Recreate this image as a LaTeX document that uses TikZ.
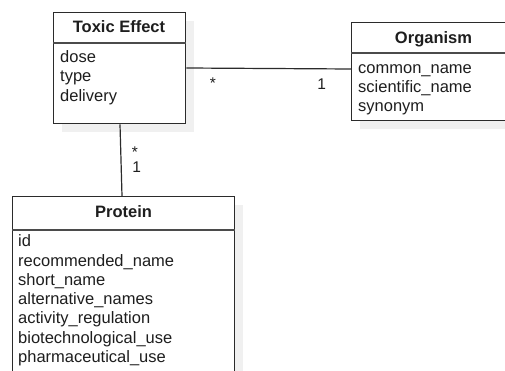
\documentclass[tikz,border=0pt]{standalone}
\usepackage{fontspec}
\setmainfont{Liberation Sans}
\usetikzlibrary{calc}
\definecolor{linec}{HTML}{2B2B2B}
\definecolor{textc}{HTML}{1E1E1E}
\definecolor{shadowc}{HTML}{F0F0F0}
\begin{document}
\begin{tikzpicture}[x=1pt,y=-1pt,
  classbox/.style={draw=linec, line width=1.3pt, fill=white, anchor=north west, inner sep=0pt},
  title/.style={anchor=base, font=\bfseries\fontsize{16.5}{19}\selectfont, text=textc, inner sep=0pt},
  attr/.style={anchor=base west, font=\fontsize{16.5}{19}\selectfont, text=textc, inner sep=0pt},
  mult/.style={anchor=base, font=\fontsize{15.5}{18}\selectfont, text=textc, inner sep=0pt},
  link/.style={draw=linec, line width=1.2pt},
  sep/.style={draw=linec!85, line width=1.2pt}]
\useasboundingbox (0,0) rectangle (505,371);
\clip (0,0) rectangle (505,371);

% drop shadows
\fill[shadowc] (62,21) rectangle (194,132);
\fill[shadowc] (360,31) rectangle (525,129);
\fill[shadowc] (21,205) rectangle (243,420);

% class boxes
\node[classbox, minimum width=132pt, minimum height=111pt] (toxic) at (53,12) {};
\node[classbox, minimum width=165pt, minimum height=98pt] (org) at (351,22) {};
\node[classbox, minimum width=222pt, minimum height=215pt] (prot) at (12,196) {};

% header separators
\draw[sep] ($(toxic.north west)+(0,31)$) -- ($(toxic.north east)+(0,31)$);
\draw[sep] ($(org.north west)+(0,31)$) -- ($(org.north east)+(0,31)$);
\draw[sep] ($(prot.north west)+(0,34)$) -- ($(prot.north east)+(0,34)$);

% titles
\node[title] (toxicT) at (119,33) {Toxic Effect};
\node[title] (orgT) at (433.5,43.5) {Organism};
\node[title] (protT) at (123.5,218) {Protein};

% attributes
\node[attr] (t1) at (60,62.5) {dose};
\node[attr] (t2) at (60,82) {type};
\node[attr] (t3) at (60,101.5) {delivery};

\node[attr] (o1) at (358,73.3) {common\_name};
\node[attr] (o2) at (358,92.6) {scientific\_name};
\node[attr] (o3) at (358,111.6) {synonym};

\node[attr] (p1) at (18,246.7) {id};
\node[attr] (p2) at (18,266) {recommended\_name};
\node[attr] (p3) at (18,285.3) {short\_name};
\node[attr] (p4) at (18,304.6) {alternative\_names};
\node[attr] (p5) at (18,323.9) {activity\_regulation};
\node[attr] (p6) at (18,343.2) {biotechnological\_use};
\node[attr] (p7) at (18,362.5) {pharmaceutical\_use};

% associations
\coordinate (te) at ($(toxic.north east)+(0,56)$);
\coordinate (ow) at ($(org.north west)+(0,47)$);
\draw[link] (te) -- (ow);
\coordinate (ts) at ($(toxic.south west)+(67,0)$);
\coordinate (pn) at ($(prot.north west)+(110,0)$);
\draw[link] (ts) -- (pn);

% multiplicities
\node[mult] (m1) at (213,89) {*};
\node[mult] (m2) at (321.7,89.3) {1};
\node[mult] (m3) at (135,157.7) {*};
\node[mult] (m4) at (136.7,172.3) {1};
\end{tikzpicture}
\end{document}
